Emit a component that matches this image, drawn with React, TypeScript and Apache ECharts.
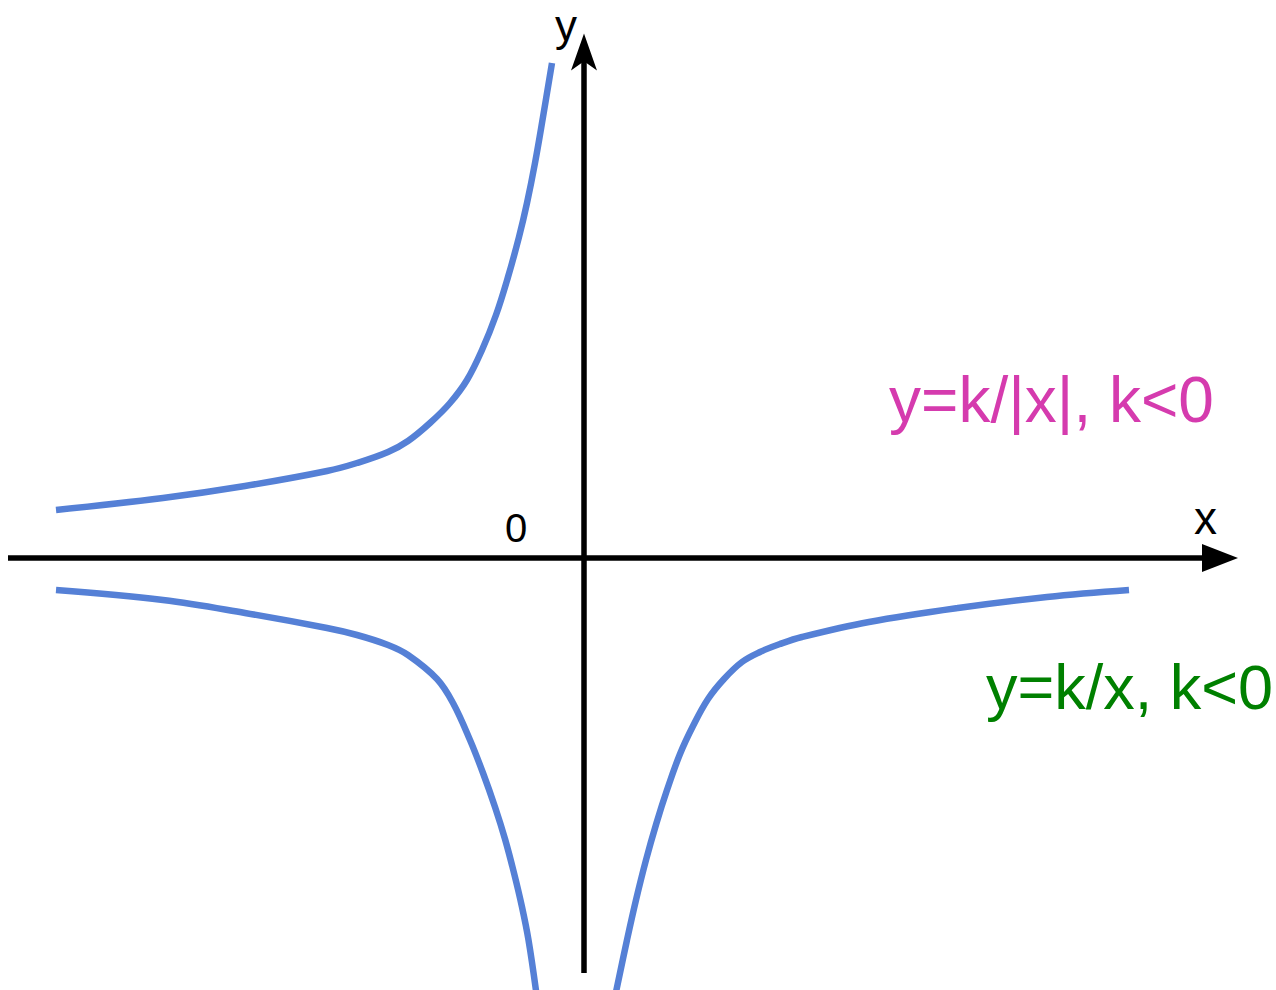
import React, { useEffect, useRef } from 'react';
import * as echarts from 'echarts';

// Data coordinates: origin at the axes' crossing, 1 unit = 100 px
const upperLeft: [number, number][] = [
  [-5.28, 0.48], [-4.21, 0.6], [-3.39, 0.72], [-2.57, 0.87], [-2.27, 0.95],
  [-1.96, 1.06], [-1.76, 1.17], [-1.54, 1.35], [-1.34, 1.55], [-1.17, 1.78],
  [-1.02, 2.08], [-0.88, 2.43], [-0.76, 2.81], [-0.65, 3.21], [-0.57, 3.55],
  [-0.49, 3.95], [-0.41, 4.41], [-0.32, 4.95],
];
const lowerLeft: [number, number][] = [
  [-5.28, -0.32], [-4.21, -0.42], [-3.39, -0.55], [-2.57, -0.7], [-2.27, -0.77],
  [-1.96, -0.87], [-1.76, -0.97], [-1.47, -1.21], [-1.31, -1.45], [-1.14, -1.82],
  [-1.01, -2.15], [-0.89, -2.49], [-0.79, -2.81], [-0.7, -3.15], [-0.62, -3.49],
  [-0.555, -3.82], [-0.478, -4.34],
];
const lowerRight: [number, number][] = [
  [0.32, -4.34], [0.43, -3.82], [0.52, -3.42], [0.62, -3.02], [0.725, -2.65],
  [0.83, -2.32], [0.96, -1.96], [1.09, -1.68], [1.24, -1.41], [1.4, -1.21],
  [1.58, -1.04], [1.76, -0.94], [1.96, -0.86], [2.18, -0.79], [2.85, -0.64],
  [3.74, -0.5], [4.63, -0.39], [5.45, -0.32],
];
const xAxisSpan = [-5.76, 6.26];
const yAxisSpan = [-4.15, 5.13];
const xArrowAt: [number, number] = [6.36, 0];
const yArrowAt: [number, number] = [0, 5.245];
const xName = 'x';
const yName = 'y';
const originName = '0';
const formulaAbs = 'y=k/|x|, k<0';
const formulaPlain = 'y=k/x, k<0';

export default function App() {
  const ref = useRef<HTMLDivElement>(null);
  useEffect(() => {
    const chart = echarts.init(ref.current!, null, { renderer: 'svg' });
    const font = '"Liberation Sans", Arial, Helvetica, sans-serif';
    const curve = (data: [number, number][]) => ({
      type: 'line',
      data,
      symbol: 'none',
      smooth: 0.38,
      silent: true,
      lineStyle: { color: '#5580D6', width: 6.5, cap: 'butt' },
      z: 3,
    });
    chart.setOption({
      animation: false,
      backgroundColor: '#ffffff',
      grid: { left: 0, right: 0, top: 0, bottom: 0, containLabel: false },
      xAxis: { type: 'value', min: -5.84, max: 6.92, show: false },
      yAxis: { type: 'value', min: -4.32, max: 5.58, show: false },
      series: [
        {
          type: 'line',
          data: xAxisSpan.map((x) => [x, 0]),
          symbol: 'none',
          silent: true,
          lineStyle: { color: '#000000', width: 5.5 },
          z: 2,
        },
        {
          type: 'line',
          data: yAxisSpan.map((y) => [0, y]),
          symbol: 'none',
          silent: true,
          lineStyle: { color: '#000000', width: 5.5 },
          z: 2,
        },
        {
          type: 'scatter',
          data: [xArrowAt],
          symbol: 'triangle',
          symbolSize: [28, 36],
          symbolRotate: -90,
          silent: true,
          itemStyle: { color: '#000000', opacity: 1 },
          z: 4,
        },
        {
          type: 'scatter',
          data: [yArrowAt],
          symbol: 'arrow',
          symbolSize: [19.5, 37],
          silent: true,
          itemStyle: { color: '#000000', opacity: 1 },
          z: 4,
        },
        curve(upperLeft),
        curve(lowerLeft),
        curve(lowerRight),
      ],
      graphic: [
        {
          type: 'text',
          style: { text: yName, x: 555, y: 25, fill: '#000000', fontSize: 44, fontFamily: font, align: 'left', verticalAlign: 'middle' },
          z: 5,
        },
        {
          type: 'text',
          style: { text: xName, x: 1194, y: 518, fill: '#000000', fontSize: 46, fontFamily: font, align: 'left', verticalAlign: 'middle' },
          z: 5,
        },
        {
          type: 'text',
          style: { text: originName, x: 505, y: 528, fill: '#000000', fontSize: 40, fontFamily: font, align: 'left', verticalAlign: 'middle' },
          z: 5,
        },
        {
          type: 'text',
          style: { text: formulaAbs, x: 889, y: 400, fill: '#D53BAE', fontSize: 64, fontFamily: font, align: 'left', verticalAlign: 'middle' },
          z: 5,
        },
        {
          type: 'text',
          style: { text: formulaPlain, x: 986, y: 687, fill: '#008000', fontSize: 63, fontFamily: font, align: 'left', verticalAlign: 'middle' },
          z: 5,
        },
      ],
    });
    return () => chart.dispose();
  }, []);
  return (
    <div
      ref={ref}
      style={{ position: 'absolute', left: 0, top: 0, width: 1276, height: 990 }}
    />
  );
}
